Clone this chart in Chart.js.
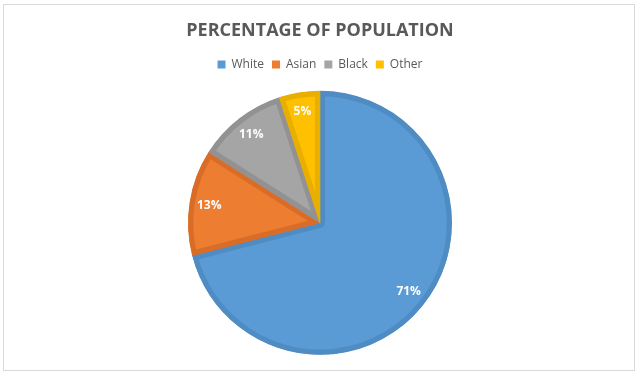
<!DOCTYPE html>
<html>
<head>
<meta charset="utf-8">
<script src="https://cdn.jsdelivr.net/npm/chart.js@4.4.1/dist/chart.umd.min.js"></script>
<style>
  html, body { margin: 0; padding: 0; background: #fff; }
  #wrap { position: relative; width: 640px; height: 378px; }
  #frame { position: absolute; left: 3px; top: 4px; width: 632px; height: 367px; border: 1px solid #d9d9d9; box-sizing: border-box; }
  canvas { position: absolute; left: 0; top: 0; }
</style>
</head>
<body>
<div id="wrap">
  <div id="frame"></div>
  <canvas id="popChart" width="640" height="378"></canvas>
</div>
<script>
// Data
const categories = ['White', 'Asian', 'Black', 'Other'];
const percentages = [71, 13, 11, 5];
const fillColors = ['#5b9bd5', '#ed7d31', '#a5a5a5', '#ffc000'];
const edgeColors = ['#4f8cc4', '#d96d27', '#929292', '#e8ae00'];

// Labels inside slices
const sliceLabels = {
  id: 'sliceLabels',
  afterDatasetsDraw(chart) {
    const ctx = chart.ctx;
    const meta = chart.getDatasetMeta(0);
    ctx.save();
    ctx.font = 'bold 12px "Open Sans", sans-serif';
    ctx.fillStyle = '#ffffff';
    ctx.textAlign = 'center';
    ctx.textBaseline = 'middle';
    meta.data.forEach((arc, i) => {
      const mid = (arc.startAngle + arc.endAngle) / 2;
      const r = arc.outerRadius * 0.85;
      ctx.fillText(percentages[i] + '%', arc.x + Math.cos(mid) * r, arc.y + Math.sin(mid) * r);
    });
    ctx.restore();
  }
};

new Chart(document.getElementById('popChart'), {
  type: 'pie',
  data: {
    labels: categories,
    datasets: [{
      data: percentages,
      backgroundColor: fillColors,
      borderColor: edgeColors,
      borderWidth: 5,
      borderAlign: 'inner',
      radius: 132
    }]
  },
  options: {
    responsive: false,
    animation: false,
    layout: { padding: { top: 0, bottom: 13 } },
    plugins: {
      title: {
        display: true,
        text: 'PERCENTAGE OF POPULATION',
        color: '#595959',
        font: { family: '"Open Sans", sans-serif', size: 18, weight: 'bold' },
        padding: { top: 20, bottom: 9 }
      },
      legend: {
        position: 'top',
        labels: {
          color: '#595959',
          font: { family: '"Open Sans", sans-serif', size: 12 },
          boxWidth: 8,
          boxHeight: 8,
          padding: 8,
          generateLabels(chart) {
            return categories.map((name, i) => ({
              text: name,
              fillStyle: fillColors[i],
              strokeStyle: fillColors[i],
              lineWidth: 0,
              fontColor: '#595959',
              hidden: false,
              index: i
            }));
          }
        }
      },
      tooltip: { enabled: false }
    }
  },
  plugins: [sliceLabels]
});
</script>
</body>
</html>
